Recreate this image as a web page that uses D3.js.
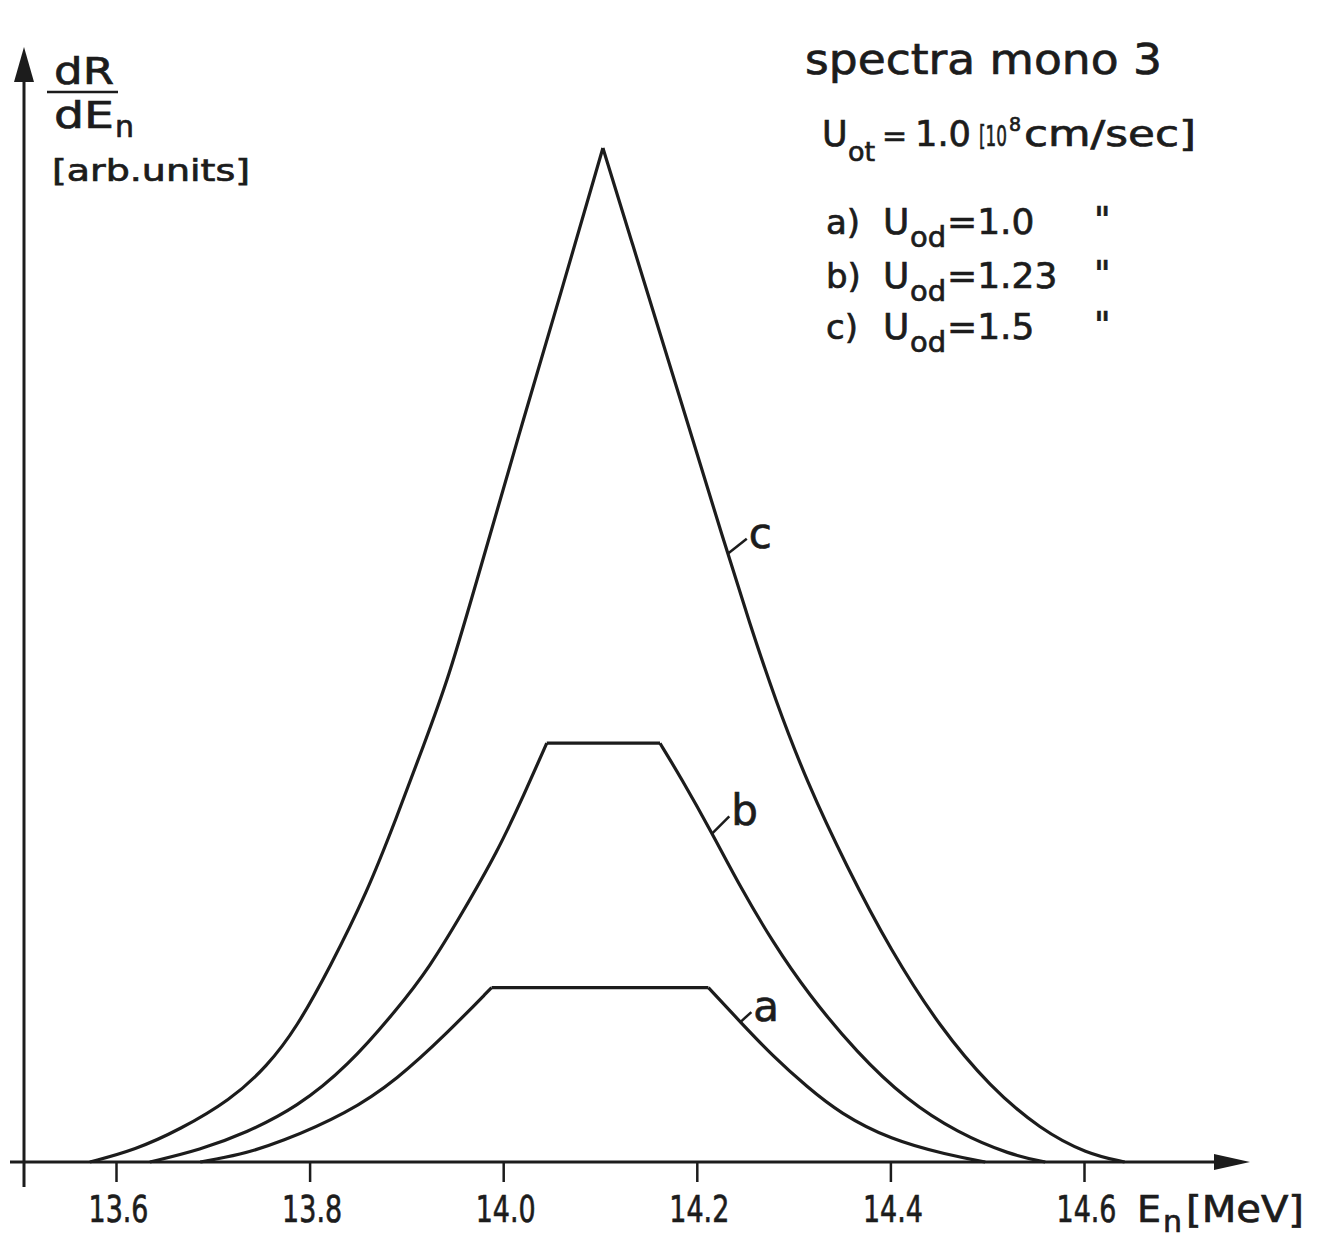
<!DOCTYPE html>
<html>
<head>
<meta charset="utf-8">
<script src="https://cdn.jsdelivr.net/npm/d3@7"></script>
<style>
  body { margin: 0; background: #fff; }
  text { font-family: "DejaVu Sans", sans-serif; fill: #1c1c1c; stroke: #1c1c1c; stroke-width: 0.7px; }
</style>
</head>
<body>
<script>
// neutron energy [MeV] and dR/dEn [arb. units]
const energyA = [13.687, 13.728, 13.769, 13.839, 13.890, 13.942, 13.988, 14.212, 14.245, 14.279, 14.314, 14.348, 14.400, 14.459, 14.498];
const rateA = [0, 0.007, 0.019, 0.048, 0.081, 0.127, 0.172, 0.172, 0.138, 0.104, 0.074, 0.048, 0.022, 0.007, 0];
const cornersA = [13.988, 14.212];

const energyB = [13.635, 13.687, 13.735, 13.787, 13.839, 13.890, 13.924, 13.958, 13.994, 14.019, 14.045, 14.162, 14.183, 14.216, 14.245, 14.279, 14.314, 14.366, 14.417, 14.469, 14.524, 14.560];
const rateB = [0, 0.012, 0.029, 0.054, 0.094, 0.150, 0.192, 0.246, 0.306, 0.357, 0.413, 0.413, 0.380, 0.324, 0.271, 0.216, 0.167, 0.107, 0.061, 0.029, 0.007, 0];
const cornersB = [14.045, 14.162];

const energyC = [13.573, 13.620, 13.666, 13.718, 13.756, 13.787, 13.821, 13.859, 13.890, 13.917, 13.943, 13.976, 14.017, 14.059, 14.103, 14.134, 14.164, 14.196, 14.226, 14.255, 14.281, 14.314, 14.355, 14.400, 14.451, 14.503, 14.555, 14.603, 14.642];
const rateC = [0, 0.012, 0.032, 0.061, 0.094, 0.133, 0.192, 0.265, 0.340, 0.409, 0.475, 0.584, 0.720, 0.855, 1.0, 0.904, 0.811, 0.712, 0.618, 0.530, 0.456, 0.374, 0.291, 0.209, 0.133, 0.074, 0.032, 0.008, 0];
const cornersC = [14.103];

const xTicks = [13.6, 13.8, 14.0, 14.2, 14.4, 14.6];
const seriesNames = ['a', 'b', 'c'];
const odSpeeds = ['1.0', '1.23', '1.5'];
// energy where each curve letter's leader touches its curve
const labelEnergy = [14.245, 14.216, 14.232];

const W = 1322, H = 1233;
const ink = '#1c1c1c';

const svg = d3.select('body').append('svg')
  .attr('width', W)
  .attr('height', H);

const x = d3.scaleLinear().domain([13.6, 14.6]).range([116, 1084]);
const y = d3.scaleLinear().domain([0, 1]).range([1162, 148]);

// axes
const xAxis = svg.append('g')
  .attr('transform', `translate(0, ${y(0)})`)
  .call(d3.axisBottom(x).tickValues(xTicks).tickSize(20).tickPadding(13).tickFormat(d3.format('.1f')));
xAxis.select('.domain').remove();
xAxis.selectAll('.tick line').attr('stroke', ink).attr('stroke-width', 2.5);
xAxis.selectAll('.tick text')
  .style('font-size', '38px')
  .attr('textLength', 60)
  .attr('lengthAdjust', 'spacingAndGlyphs')
  .attr('dx', 2);

svg.append('line')
  .attr('x1', 10).attr('x2', 1222)
  .attr('y1', y(0)).attr('y2', y(0))
  .attr('stroke', ink).attr('stroke-width', 3);
svg.append('path')
  .attr('d', `M1250,${y(0)} L1214,${y(0) - 8} L1214,${y(0) + 8} Z`)
  .attr('fill', ink);

svg.append('line')
  .attr('x1', 24).attr('x2', 24)
  .attr('y1', 1187).attr('y2', 70)
  .attr('stroke', ink).attr('stroke-width', 3);
svg.append('path')
  .attr('d', 'M24,47 L14,82 L34,82 Z')
  .attr('fill', ink);

// y label
svg.append('text').attr('x', 54).attr('y', 84)
  .attr('textLength', 60).attr('lengthAdjust', 'spacingAndGlyphs')
  .style('font-size', '38px').text('dR');
svg.append('line')
  .attr('x1', 47).attr('x2', 118).attr('y1', 92).attr('y2', 92)
  .attr('stroke', ink).attr('stroke-width', 2.5);
svg.append('text').attr('x', 54).attr('y', 128)
  .attr('textLength', 60).attr('lengthAdjust', 'spacingAndGlyphs')
  .style('font-size', '38px').text('dE');
svg.append('text').attr('x', 115).attr('y', 137).style('font-size', '30px').text('n');
svg.append('text').attr('x', 52).attr('y', 181)
  .attr('textLength', 198).attr('lengthAdjust', 'spacingAndGlyphs')
  .style('font-size', '30px').text('[arb.units]');

// x label
svg.append('text').attr('x', 1137).attr('y', 1222).style('font-size', '38px').text('E');
svg.append('text').attr('x', 1163).attr('y', 1232).style('font-size', '30px').text('n');
svg.append('text').attr('x', 1186).attr('y', 1222)
  .attr('textLength', 118).attr('lengthAdjust', 'spacingAndGlyphs')
  .style('font-size', '38px').text('[MeV]');

// curves, split at the sharp corners so the smoothing keeps them sharp
const line = d3.line()
  .x(d => x(d[0]))
  .y(d => y(d[1]))
  .curve(d3.curveBasis);

function pieces(energy, rate, corners) {
  const runs = [[]];
  energy.forEach((e, i) => {
    runs[runs.length - 1].push([e, rate[i]]);
    if (corners.includes(e) && i > 0 && i < energy.length - 1) runs.push([[e, rate[i]]]);
  });
  return runs;
}

const series = [
  [energyA, rateA, cornersA],
  [energyB, rateB, cornersB],
  [energyC, rateC, cornersC]
];

series.forEach(([energy, rate, corners]) => {
  svg.append('g').selectAll('path')
    .data(pieces(energy, rate, corners))
    .enter()
    .append('path')
    .attr('d', line)
    .attr('fill', 'none')
    .attr('stroke', ink)
    .attr('stroke-width', 3.2)
    .attr('stroke-linejoin', 'round');
});

// curve letters with little leader strokes
const leader = [[11, 10], [17, 17], [19, 15]];
seriesNames.forEach((name, i) => {
  const [energy, rate] = series[i];
  const onCurve = d3.scaleLinear().domain(energy).range(rate);
  const px = x(labelEnergy[i]);
  const py = y(onCurve(labelEnergy[i]));
  svg.append('line')
    .attr('x1', px).attr('y1', py)
    .attr('x2', px + leader[i][0]).attr('y2', py - leader[i][1])
    .attr('stroke', ink).attr('stroke-width', 2.5);
  svg.append('text')
    .attr('x', px + leader[i][0] + 2).attr('y', py - leader[i][1] + 9)
    .style('font-size', '42px')
    .text(name);
});

// header text
svg.append('text').attr('x', 805).attr('y', 74)
  .attr('textLength', 357).attr('lengthAdjust', 'spacingAndGlyphs')
  .style('font-size', '42px').text('spectra mono 3');

svg.append('text').attr('x', 822).attr('y', 146).style('font-size', '35px').text('U');
svg.append('text').attr('x', 848).attr('y', 161).style('font-size', '27px').text('ot');
svg.append('text').attr('x', 882).attr('y', 146).style('font-size', '30px').text('=');
svg.append('text').attr('x', 915).attr('y', 146)
  .attr('textLength', 56).attr('lengthAdjust', 'spacingAndGlyphs')
  .style('font-size', '35px').text('1.0');
svg.append('text').attr('x', 979).attr('y', 146)
  .attr('textLength', 28).attr('lengthAdjust', 'spacingAndGlyphs')
  .style('font-size', '28px').text('[10');
svg.append('text').attr('x', 1009).attr('y', 131).style('font-size', '19px').text('8');
svg.append('text').attr('x', 1024).attr('y', 146)
  .attr('textLength', 172).attr('lengthAdjust', 'spacingAndGlyphs')
  .style('font-size', '35px').text('cm/sec]');

const rowY = [234, 288, 339];
seriesNames.forEach((name, i) => {
  svg.append('text').attr('x', 826).attr('y', rowY[i]).style('font-size', '34px').text(name + ')');
  svg.append('text').attr('x', 883).attr('y', rowY[i]).style('font-size', '36px').text('U');
  svg.append('text').attr('x', 910).attr('y', rowY[i] + 13).style('font-size', '29px').text('od');
  svg.append('text').attr('x', 947).attr('y', rowY[i]).style('font-size', '36px').text('=' + odSpeeds[i]);
  svg.append('text').attr('x', 1094).attr('y', rowY[i] - 2).style('font-size', '36px').text('"');
});
</script>
</body>
</html>
